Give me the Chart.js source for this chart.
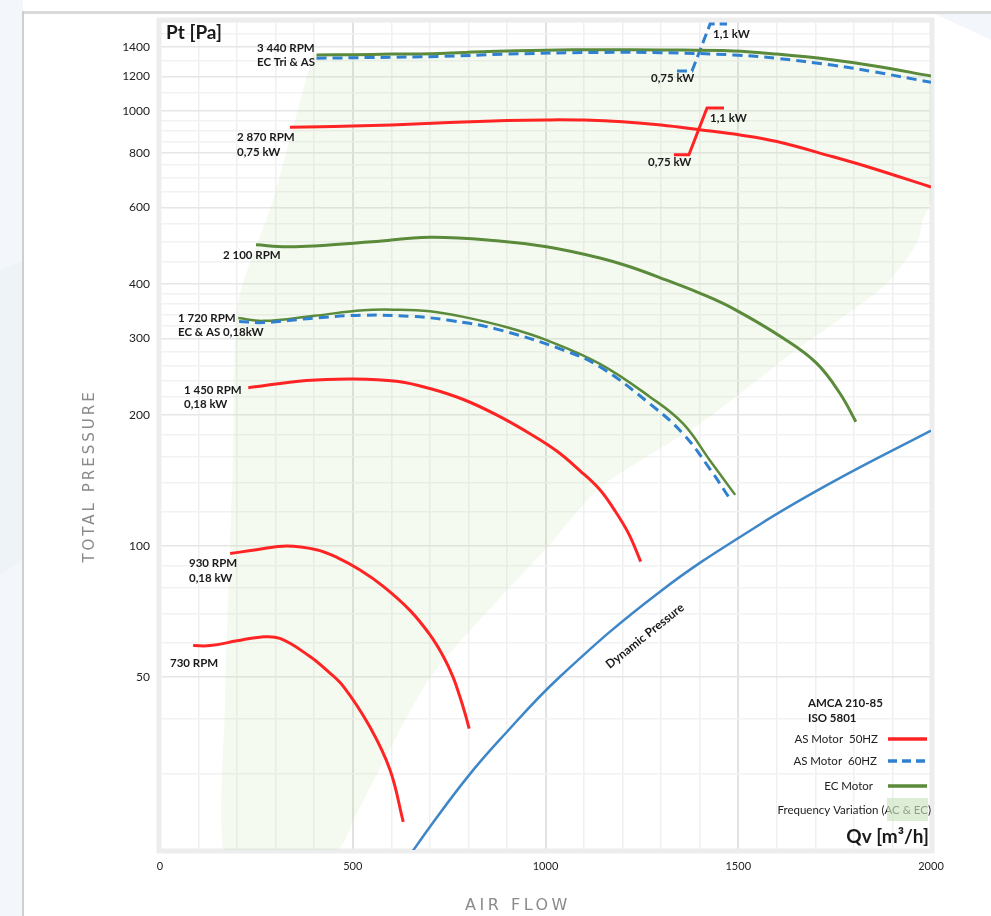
<!DOCTYPE html>
<html><head><meta charset="utf-8">
<script src="https://cdn.jsdelivr.net/npm/chart.js@4.4.1/dist/chart.umd.min.js"></script>
<style>
html,body{margin:0;padding:0;background:#fff;}
canvas{display:block;}
</style></head><body>
<canvas id="c" width="991" height="916"></canvas>
<script>
// ---------- tick labels / grid ----------
const flowTickLabels = [0, 500, 1000, 1500, 2000];
const flowGrid = [0,100,200,300,400,500,600,700,800,900,1000,1100,1200,1300,1400,1500,1600,1700,1800,1900,2000];
const pressureTickLabels = [50, 100, 200, 300, 400, 600, 800, 1000, 1200, 1400];
const pressureGrid = [20,30,40,50,60,70,80,90,100,120,140,160,180,200,220,240,260,280,300,320,340,360,380,400,450,500,550,600,650,700,750,800,850,900,950,1000,1100,1200,1300,1400,1500,1600];

// ---------- series (Qv m3/h, Pt Pa) ----------
const q3440EC = [406,500,600,726,850,1000,1141,1300,1487,1600,1747,1850,2000];
const p3440EC = [1344,1346,1350,1355,1368,1378,1382,1380,1372,1350,1309,1270,1202];
const q3440AS = [406,550,726,900,1141,1300,1487,1600,1747,1850,2000];
const p3440AS = [1321,1326,1333,1350,1362,1360,1344,1320,1272,1230,1163];
const q2870 = [337,450,600,750,900,1000,1100,1200,1300,1400,1505,1600,1746,1850,2000];
const p2870 = [917,920,928,940,950,953,952,944,928,905,880,850,784,737,668];
const q2100 = [249,329,400,550,700,873,1003,1141,1219,1314,1400,1487,1617,1703,1764,1805];
const p2100 = [492,487,489,500,512,503,487,459,438,408,381,351,300,263,224,193];
const q1720EC = [203,268,400,527,614,700,787,900,1003,1141,1271,1357,1427,1492];
const p1720EC = [334,329,338,348,349,346,336,318,297,262,220,191,157,131];
const q1720AS = [205,268,400,527,650,750,873,1046,1141,1271,1357,1427,1479];
const p1720AS = [328,326,334,339,337,330,315,282,258,212,181,150,128];
const q1450 = [229,380,501,614,700,787,873,960,1030,1089,1140,1176,1215,1247];
const p1450 = [231,240,242,239,230,217,200,181,165,149,135,122,107,92];
const q930 = [182,250,329,406,460,519,580,649,700,735,760,778,792,802];
const p930 = [96,98,100,98,94,88,80.6,71,62.5,55.7,50,45,41,38];
const q730 = [86,130,200,259,311,389,430,476,545,597,631];
const p730 = [59,59,60.5,61.7,61.3,55.7,52,47.5,38.3,30.5,23.2];
const qDyn = [640,700,796,882,1038,1297,1556,1750,2000];
const pDyn = [19,22.6,29.3,35.9,50.1,78.5,112,141,184];
// motor power steps
const qStepAS50 = [1333,1372,1419,1463];
const pStepAS50 = [792,792,1015,1015];
const qStepAS60 = [1341,1380,1427,1471];
const pStepAS60 = [1234,1234,1583,1583];
// frequency variation zone: lower boundary (appended after 3440 EC curve)
const qFreqEdge = [2000,2000,1979,1964,1875,1660,1401,1141,1004,882,695,501,480,440,300,169,169,189,202,293,397];
const pFreqEdge = [1202,624,561,497,393,286,191,136,99,76,49,23.3,21.1,19,18.5,19,44,157,361,624,1358];

const pts = (q,p) => q.map((x,i)=>({x:x, y:p[i]}));

const RED = '#ff2424', GREEN = '#5a8a3a', BLUE = '#2f80d0', DYN = '#3d86c8';
const FONT = 'Lato, "Open Sans", sans-serif';

function curve(q,p,color,dash,extra){
  return Object.assign({
    data: pts(q,p), borderColor: color, borderWidth: 3, borderDash: dash||[],
    pointRadius: 0, fill: false, tension: 0.4, order: 0
  }, extra||{});
}

const datasets = [
  {data: pts(q3440EC.concat(qFreqEdge), p3440EC.concat(pFreqEdge)), borderWidth:0, pointRadius:0,
   fill:'shape', backgroundColor:'rgba(180,215,150,0.13)', tension:0.22, order:10},
  curve(qDyn,pDyn,DYN,[],{borderWidth:2.5}),
  curve(q730,p730,RED),
  curve(q930,p930,RED),
  curve(q1450,p1450,RED),
  curve(q1720AS,p1720AS,BLUE,[10,6]),
  curve(q1720EC,p1720EC,GREEN,[],{borderWidth:2.5}),
  curve(q2100,p2100,GREEN),
  curve(q2870,p2870,RED),
  curve(q3440AS,p3440AS,BLUE,[10,6]),
  curve(q3440EC,p3440EC,GREEN),
  curve(qStepAS50,pStepAS50,RED,[],{tension:0}),
  curve(qStepAS60,pStepAS60,BLUE,[10,5],{tension:0})
];

const bgPlugin = {
  id:'bg',
  beforeDraw(chart){
    const c = chart.ctx; c.save();
    c.fillStyle='#fff'; c.fillRect(0,0,chart.width,chart.height);
    c.fillStyle='#f3f6fa'; c.fillRect(0,0,23,chart.height);
    c.beginPath(); c.moveTo(23,260); c.lineTo(23,560); c.lineTo(0,575); c.lineTo(0,270); c.closePath();
    c.fillStyle='#eef3f8'; c.fill();
    c.beginPath(); c.moveTo(935,14); c.lineTo(991,14); c.lineTo(991,40); c.closePath();
    c.fillStyle='#f3f6fa'; c.fill();
    c.fillStyle='#dadada'; c.fillRect(23,11,chart.width-23,3);
    c.fillStyle='#cfcfcf'; c.fillRect(22,11,2,chart.height-11);
    c.restore();
  },
  beforeDatasetsDraw(chart){
    const a = chart.chartArea, c = chart.ctx; c.save();
    c.strokeStyle='#ededed'; c.lineWidth=5;
    c.strokeRect(a.left-1, a.top-2, a.right-a.left+2, a.bottom-a.top+3);
    c.restore();
  },
  afterDatasetsDraw(chart){
    const c = chart.ctx; c.save();
    c.fillStyle='#1a1a1a'; c.textBaseline='middle'; c.textAlign='left';
    c.font = 'bold 11.5px ' + FONT;
    const labels = [
      ['3 440 RPM',257,48],['EC Tri & AS',257,62],
      ['2 870 RPM',237,137],['0,75 kW',237,152],
      ['2 100 RPM',223,255],
      ['1 720 RPM',178,318],['EC & AS 0,18kW',178,332],
      ['1 450 RPM',184,390],['0,18 kW',184,404],
      ['930 RPM',189,563],['0,18 kW',189,578],
      ['730 RPM',170,663],
      ['0,75 kW',648,162],['1,1 kW',710,118],
      ['0,75 kW',651,78],['1,1 kW',713,34],
      ['AMCA 210-85',808,703],['ISO 5801',808,718]
    ];
    labels.forEach(l=>c.fillText(l[0],l[1],l[2]));
    // dynamic pressure label
    c.save(); c.translate(645,636); c.rotate(-38.6*Math.PI/180);
    c.textAlign='center'; c.font='bold 12px '+FONT; c.fillText('Dynamic Pressure',0,0); c.restore();
    // titles
    c.font='bold 19px '+FONT; c.fillText('Pt [Pa]',166,33);
    c.textAlign='right'; c.font='bold 19px '+FONT; c.fillText('Qv [m³/h]',929,837);
    // legend
    c.font='11.5px '+FONT; c.fillStyle='#222';
    c.fillText('AS Motor  50HZ',878,739);
    c.fillText('AS Motor  60HZ',877,761);
    c.fillText('EC Motor',873,786);
    c.fillText('Frequency Variation (AC & EC)',931,810);
    c.fillStyle='rgba(205,228,190,0.65)'; c.fillRect(887,798,41,23);
    c.lineWidth=3.5;
    c.strokeStyle=RED; c.beginPath(); c.moveTo(888,739); c.lineTo(927,739); c.stroke();
    c.strokeStyle=BLUE; c.setLineDash([9,5]); c.beginPath(); c.moveTo(888,761); c.lineTo(927,761); c.stroke();
    c.setLineDash([]);
    c.strokeStyle=GREEN; c.beginPath(); c.moveTo(888,786); c.lineTo(927,786); c.stroke();
    // axis titles
    c.fillStyle='#8a8a8a'; c.textAlign='center';
    c.font='15px "DejaVu Sans", sans-serif'; c.letterSpacing='3px';
    c.save(); c.translate(90,476); c.rotate(-Math.PI/2); c.fillText('TOTAL PRESSURE',0,0); c.restore();
    c.font='16px "DejaVu Sans", sans-serif'; c.letterSpacing='3.5px';
    c.fillText('AIR FLOW',518,906);
    c.restore();
  }
};

new Chart(document.getElementById('c'), {
  type:'line',
  data:{datasets},
  options:{
    responsive:false, animation:false, devicePixelRatio:1,
    layout:{padding:{top:22,right:60,left:0,bottom:0}},
    plugins:{legend:{display:false}, tooltip:{enabled:false}},
    scales:{
      x:{type:'linear', min:0, max:2000,
        afterBuildTicks(s){ s.ticks = flowGrid.map(v=>({value:v})); },
        afterFit(s){ s.height = 66; },
        ticks:{autoSkip:false, maxRotation:0, padding:10, color:'#222', font:{family:FONT,size:11},
          callback:(v)=> flowTickLabels.includes(v) ? String(v) : ''},
        grid:{drawTicks:false, color:(ctx)=> (ctx.tick && ctx.tick.value%500===0) ? '#e2e2e2' : '#f0f0f0',
          lineWidth:(ctx)=> (ctx.tick && ctx.tick.value%500===0) ? 2 : 1.5},
        border:{display:false}
      },
      y:{type:'logarithmic', min:20, max:1600,
        afterBuildTicks(s){ s.ticks = pressureGrid.map(v=>({value:v})); },
        afterFit(s){ s.width = 160; },
        ticks:{autoSkip:false, padding:10, color:'#222', font:{family:FONT,size:12},
          callback:(v)=> pressureTickLabels.includes(v) ? String(v) : ''},
        grid:{drawTicks:false, color:(ctx)=> (ctx.tick && pressureTickLabels.includes(ctx.tick.value)) ? '#e6e6e6' : '#f2f2f2',
          lineWidth:1.5},
        border:{display:false}
      }
    }
  },
  plugins:[bgPlugin]
});
</script>
</body></html>
